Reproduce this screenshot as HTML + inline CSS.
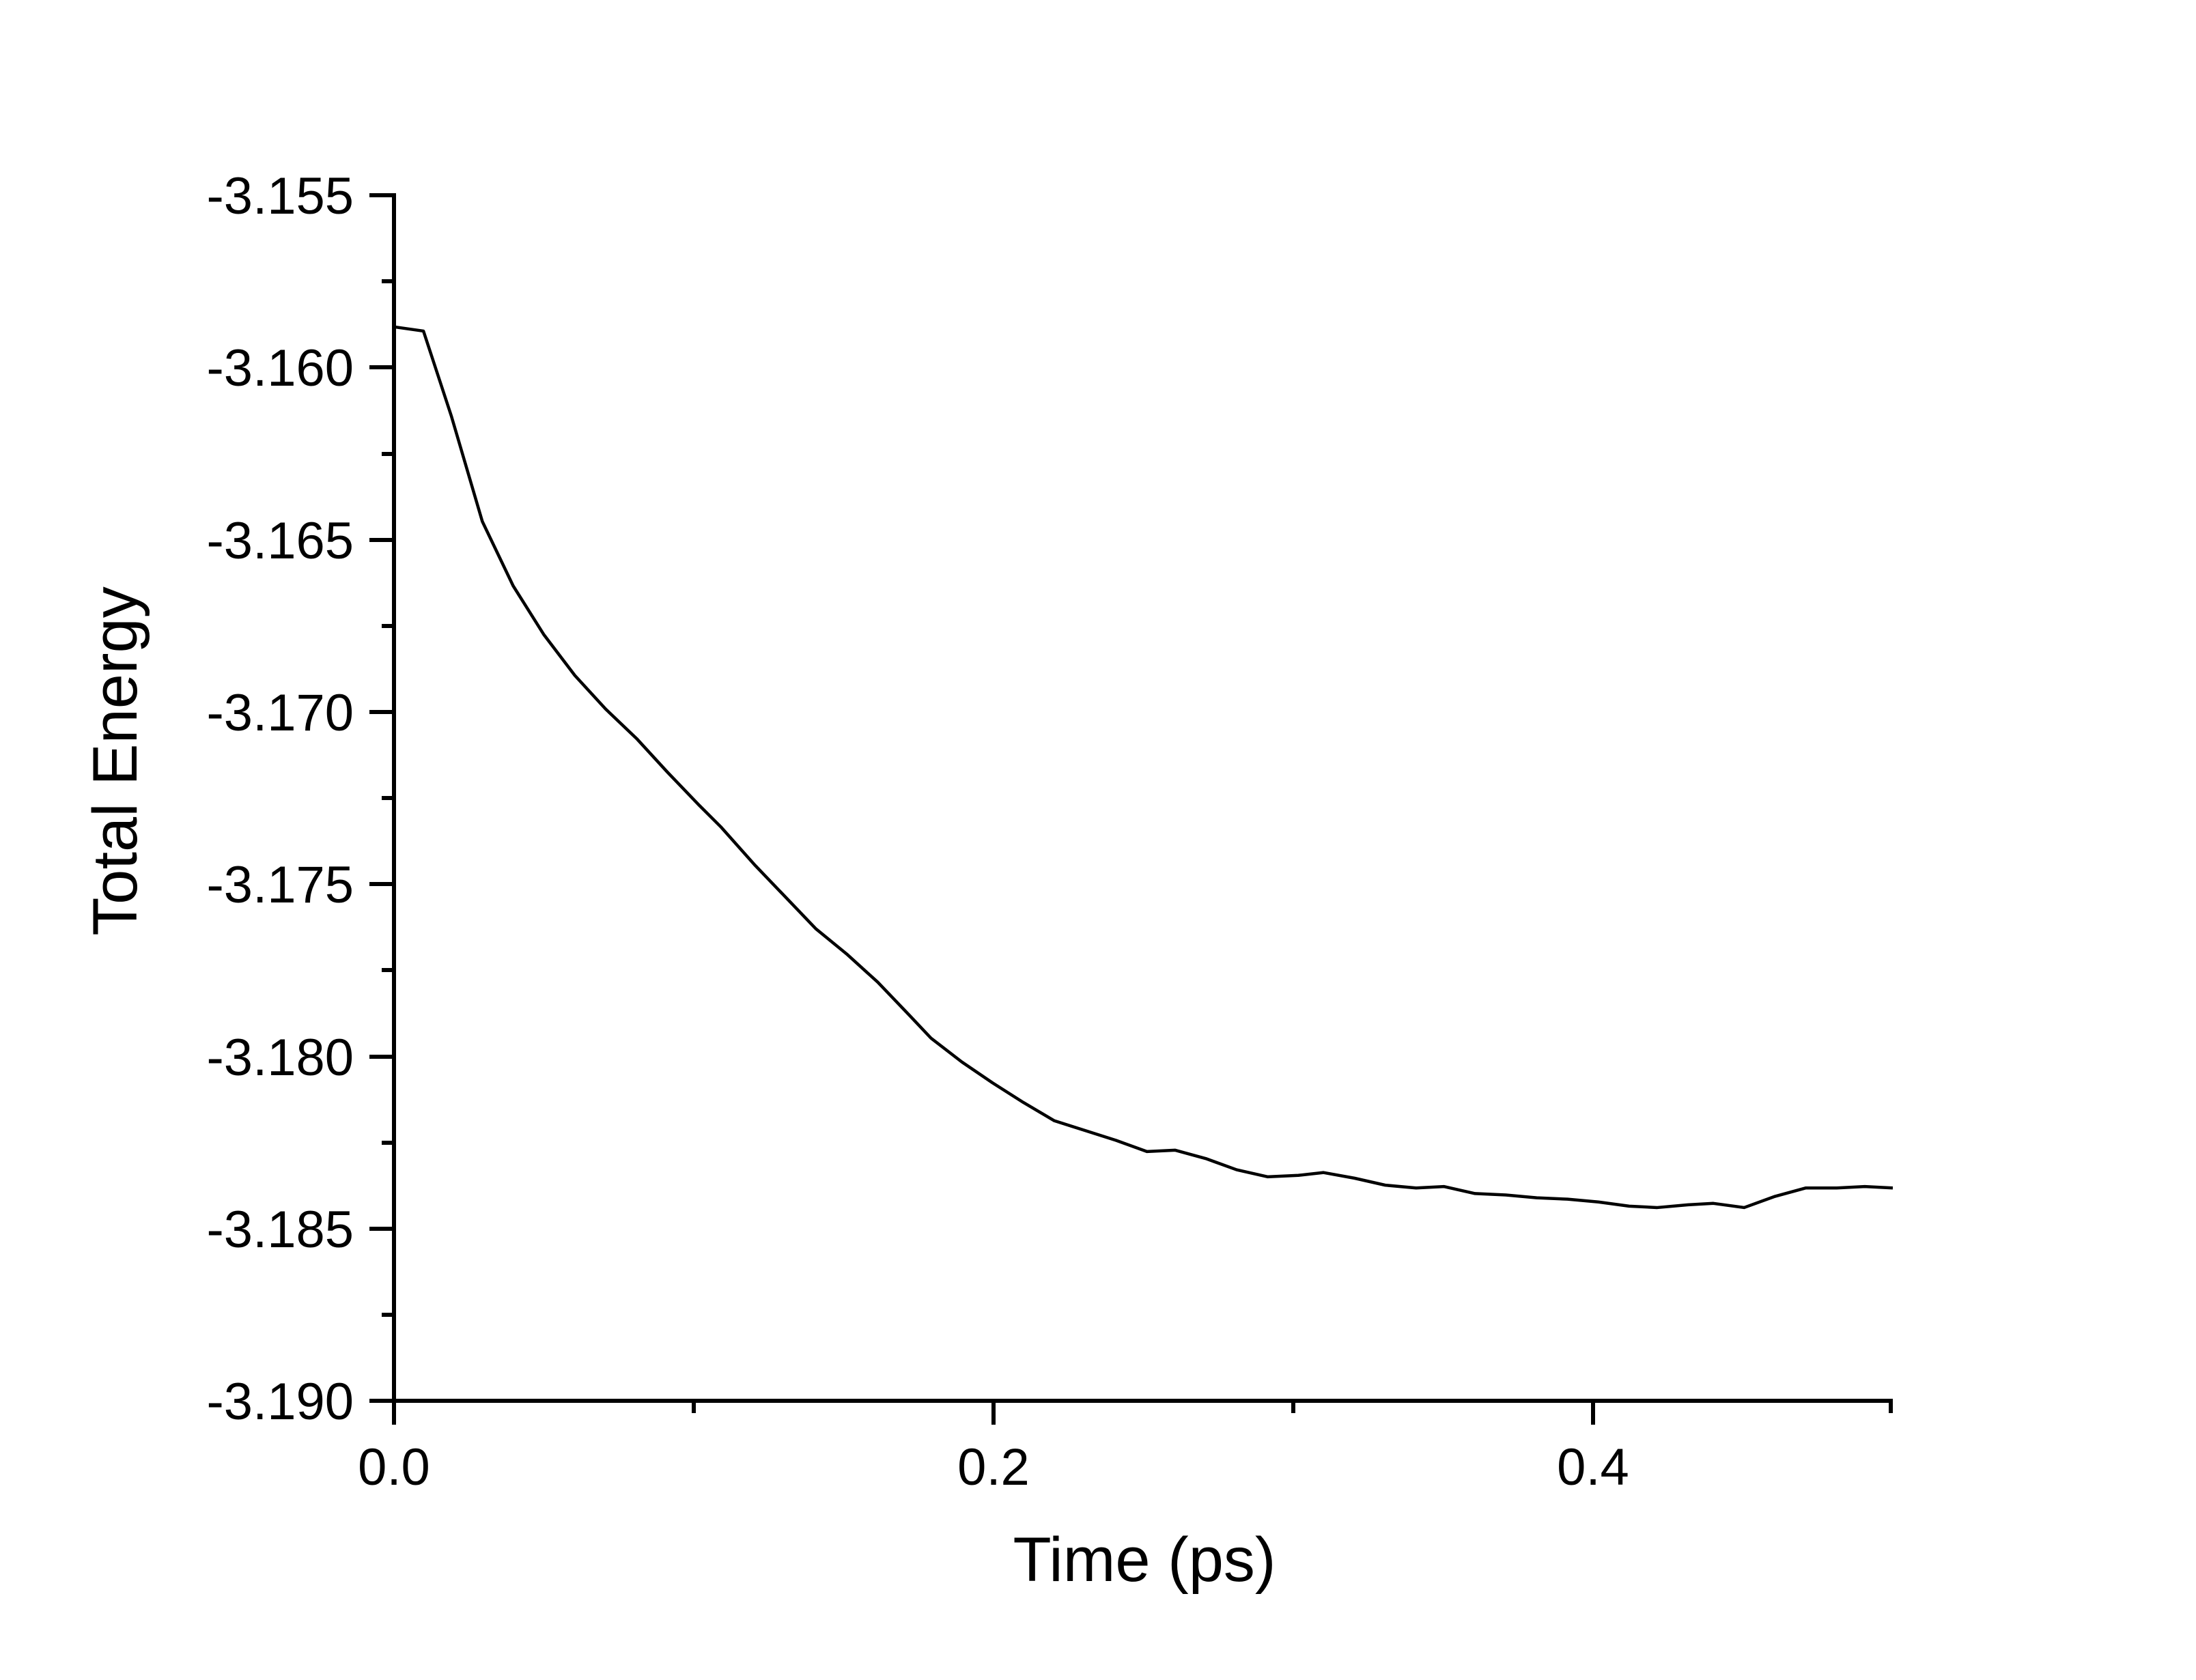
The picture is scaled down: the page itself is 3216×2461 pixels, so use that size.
<!DOCTYPE html>
<html><head><meta charset="utf-8"><style>
html,body{margin:0;padding:0;background:#fff;}
svg{display:block;}
text{font-family:"Liberation Sans",Arial,sans-serif;fill:#000;}
</style></head><body>
<svg width="3216" height="2461" viewBox="0 0 3216 2461" xmlns="http://www.w3.org/2000/svg">
<rect width="3216" height="2461" fill="#fff"/>
<g stroke="#000" stroke-width="6" fill="none" stroke-linecap="butt">
<line x1="577" y1="283" x2="577" y2="2087"/>
<line x1="574" y1="2052" x2="2772" y2="2052"/>
<line x1="541" y1="286" x2="577" y2="286"/>
<line x1="541" y1="538" x2="577" y2="538"/>
<line x1="541" y1="791" x2="577" y2="791"/>
<line x1="541" y1="1043" x2="577" y2="1043"/>
<line x1="541" y1="1295" x2="577" y2="1295"/>
<line x1="541" y1="1548" x2="577" y2="1548"/>
<line x1="541" y1="1800" x2="577" y2="1800"/>
<line x1="541" y1="2052" x2="577" y2="2052"/>
<line x1="559" y1="412" x2="577" y2="412"/>
<line x1="559" y1="665" x2="577" y2="665"/>
<line x1="559" y1="917" x2="577" y2="917"/>
<line x1="559" y1="1169" x2="577" y2="1169"/>
<line x1="559" y1="1421" x2="577" y2="1421"/>
<line x1="559" y1="1674" x2="577" y2="1674"/>
<line x1="559" y1="1926" x2="577" y2="1926"/>
<line x1="1455" y1="2052" x2="1455" y2="2087"/>
<line x1="2333" y1="2052" x2="2333" y2="2087"/>
<line x1="1016" y1="2052" x2="1016" y2="2070"/>
<line x1="1894" y1="2052" x2="1894" y2="2070"/>
<line x1="2769" y1="2052" x2="2769" y2="2070"/>
</g>
<g font-size="76" text-anchor="end">
<text x="518" y="313">-3.155</text>
<text x="518" y="565">-3.160</text>
<text x="518" y="818">-3.165</text>
<text x="518" y="1070">-3.170</text>
<text x="518" y="1322">-3.175</text>
<text x="518" y="1575">-3.180</text>
<text x="518" y="1827">-3.185</text>
<text x="518" y="2079">-3.190</text>
</g>
<g font-size="76" text-anchor="middle">
<text x="577" y="2175">0.0</text>
<text x="1455" y="2175">0.2</text>
<text x="2333" y="2175">0.4</text>
</g>
<text x="1676" y="2316" font-size="92" text-anchor="middle">Time (ps)</text>
<text transform="translate(200,1115) rotate(-90)" font-size="92" text-anchor="middle">Total Energy</text>
<g transform="translate(577,286) scale(2.0533,2.0511) translate(-281,-139)">
<polyline fill="none" stroke="#000" stroke-width="4.5" vector-effect="non-scaling-stroke" stroke-linejoin="round" points="281,233 302,236 322,297 344,372 366,418 388,453 410,482 432,506 454,527 476,551 498,574 514,590 538,617 560,640 582,663 604,681 626,701 648,724 664,741 686,758 708,773 730,787 752,800 774,807 796,814 818,822 838,821 860,827 882,835 904,840 926,839 944,837 966,841 988,846 1010,848 1030,847 1052,852 1074,853 1096,855 1118,856 1140,858 1162,861 1182,862 1204,860 1222,859 1244,862 1266,854 1288,848 1310,848 1330,847 1350,848"/>
</g>
</svg>
</body></html>
